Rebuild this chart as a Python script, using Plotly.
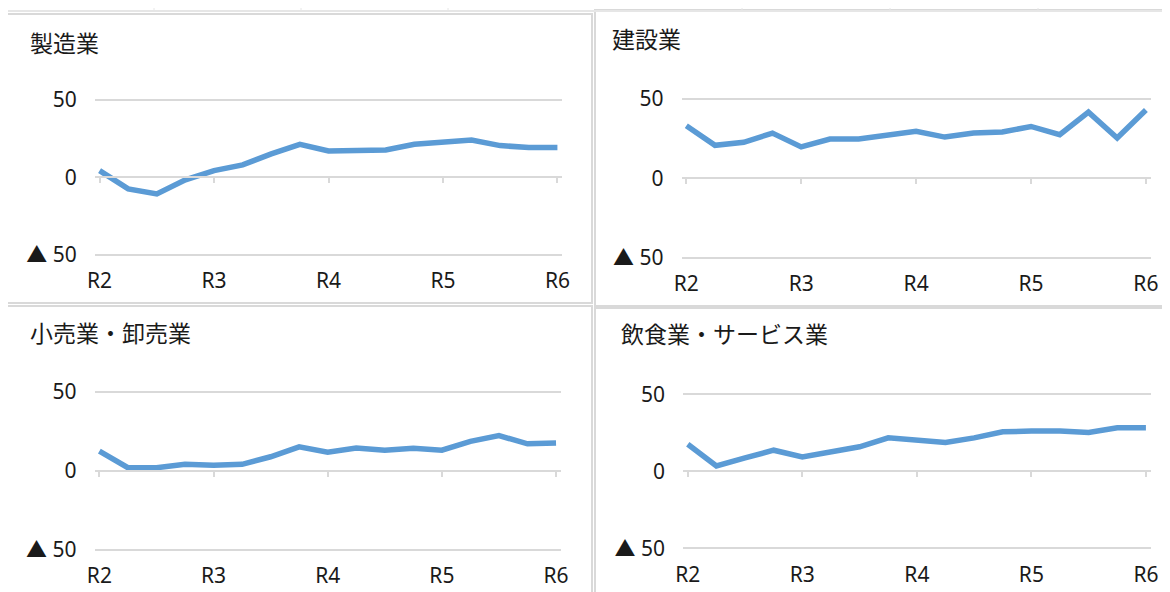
import plotly.graph_objects as go

# quarterly points from R2 to R6 (17 points)
quarters = list(range(17))
year_ticks = [0, 4, 8, 12, 16]
year_labels = ["R2", "R3", "R4", "R5", "R6"]

y_ticks = [-50, 0, 50]
y_labels = ["▲ 50", "0", "50"]

titles = ["製造業", "建設業", "小売業・卸売業", "飲食業・サービス業"]

manufacturing = [4.3, -7.5, -10.8, -1.7, 4.3, 8.0, 15.1, 21.3, 17.0, 17.0,
                 17.7, 21.3, 22.6, 24.1, 20.5, 19.2, 19.2]
construction = [33.1, 20.8, 22.7, 28.5, 19.8, 24.8, 24.8, 27.5, 29.6, 26.0,
                28.5, 29.2, 32.7, 27.5, 41.7, 25.4, 43.1]
retail_wholesale = [12.6, 2.1, 2.1, 4.2, 3.6, 4.2, 9.0, 15.3, 11.9, 14.6,
                    13.2, 14.4, 13.2, 18.8, 22.4, 17.2, 17.8]
food_service = [17.6, 3.5, 8.7, 13.7, 9.3, 12.2, 15.9, 21.7, 20.2, 18.7,
                21.7, 25.7, 26.1, 26.1, 25.2, 28.3, 28.3]

series = [manufacturing, construction, retail_wholesale, food_service]

OFF = 8  # the page body adds an 8px margin, so draw everything 8px up/left
W, H = 1170 - OFF, 592 - OFF
LINE = "#5b9bd5"
GRID = "#d9d9d9"
TEXT = "#1a1a1a"
NUM_FONT = "Noto Sans, Noto Sans CJK JP, sans-serif"
JP_FONT = "Noto Sans CJK JP, sans-serif"

# pixel layout of each panel (window coords): gridline extent (left, right),
# y of +50 / -50 lines, title position and border box
panels = [
    dict(pl=95.0, pr=562.0, pt=100.0, pb=254.5, tx=28, ty=42, box=(7, 592, 14, 303)),
    dict(pl=681.7, pr=1150.5, pt=99.0, pb=257.7, tx=610, ty=38, box=(595, 1172, 10, 306)),
    dict(pl=94.8, pr=560.6, pt=392.0, pb=550.0, tx=28, ty=332, box=(7, 592, 306, 596)),
    dict(pl=683.2, pr=1150.5, pt=394.3, pb=548.3, tx=619, ty=333, box=(595, 1172, 308, 596)),
]
YPAD = 2  # extra range so the +-50 gridlines are not clipped at the axis ends


def px_x(v):
    return (v - OFF) / W


def px_y(v):
    return 1 - (v - OFF) / H


fig = go.Figure()
layout = dict(
    width=W, height=H,
    margin=dict(l=0, r=0, t=0, b=0, pad=0),
    autosize=False,
    paper_bgcolor="white", plot_bgcolor="white",
    showlegend=False,
    shapes=[], annotations=[],
)

xr = [-0.16, 16.16]
for i, (p, vals, title) in enumerate(zip(panels, series, titles)):
    n = i + 1
    xname, yname = "x%d" % n, "y%d" % n
    fig.add_trace(go.Scatter(x=quarters, y=vals, mode="lines",
                             line=dict(color=LINE, width=5.5), xaxis=xname, yaxis=yname,
                             cliponaxis=False, hoverinfo="skip"))
    unit = (p["pb"] - p["pt"]) / 100
    xdom = [px_x(p["pl"]), px_x(p["pr"])]
    ydom = [px_y(p["pb"] + YPAD * unit), px_y(p["pt"] - YPAD * unit)]
    layout["xaxis%d" % n] = dict(
        domain=xdom, range=xr, anchor=yname, automargin=False,
        tickmode="array", tickvals=year_ticks, ticktext=year_labels,
        ticks="outside", ticklen=4, tickcolor="rgba(0,0,0,0)",
        showgrid=False, zeroline=False, showline=False,
        tickfont=dict(family=NUM_FONT, size=21, color=TEXT),
    )
    layout["yaxis%d" % n] = dict(
        domain=ydom, range=[-50 - YPAD, 50 + YPAD], anchor=xname, automargin=False,
        tickmode="array", tickvals=y_ticks, ticktext=y_labels,
        ticks="outside", ticklen=13, tickcolor="rgba(0,0,0,0)",
        showgrid=True, gridcolor=GRID, gridwidth=1.5, zeroline=False, showline=False,
        tickfont=dict(family=NUM_FONT, size=21, color=TEXT),
    )
    # horizontal axis line with tick marks, sitting on the zero line
    zero_px = (p["pt"] + p["pb"]) / 2
    k = n + 4
    fig.add_trace(go.Scatter(x=[], y=[], xaxis="x%d" % k, yaxis=yname, hoverinfo="skip"))
    layout["xaxis%d" % k] = dict(
        domain=xdom, range=xr, overlaying=xname, anchor="free", position=px_y(zero_px),
        automargin=False,
        tickmode="array", tickvals=year_ticks, showticklabels=False,
        ticks="outside", ticklen=5, tickwidth=1.5, tickcolor=GRID,
        showline=True, linecolor=GRID, linewidth=2, showgrid=False, zeroline=False,
    )
    layout["annotations"].append(dict(
        text=title, x=px_x(p["tx"]), y=px_y(p["ty"]), xref="paper", yref="paper",
        xanchor="left", yanchor="middle", showarrow=False,
        font=dict(family=JP_FONT, size=23, color=TEXT),
    ))
    bx0, bx1, by0, by1 = p["box"]
    layout["shapes"].append(dict(
        type="rect", xref="paper", yref="paper",
        x0=px_x(bx0), x1=px_x(bx1), y0=px_y(by1), y1=px_y(by0),
        line=dict(color=GRID, width=2), layer="below",
    ))

# faint spreadsheet cell lines peeking above the charts
layout["shapes"].append(dict(type="line", xref="paper", yref="paper",
                             x0=0, x1=1, y0=px_y(11), y1=px_y(11),
                             line=dict(color="#e6e6e6", width=2), layer="below"))
for cx in [154, 301, 448, 742, 890, 1038]:
    layout["shapes"].append(dict(type="line", xref="paper", yref="paper",
                                 x0=px_x(cx), x1=px_x(cx), y0=px_y(OFF), y1=px_y(12),
                                 line=dict(color="#e6e6e6", width=1), layer="below"))

fig.update_layout(**layout)
fig.write_html("out.html")
